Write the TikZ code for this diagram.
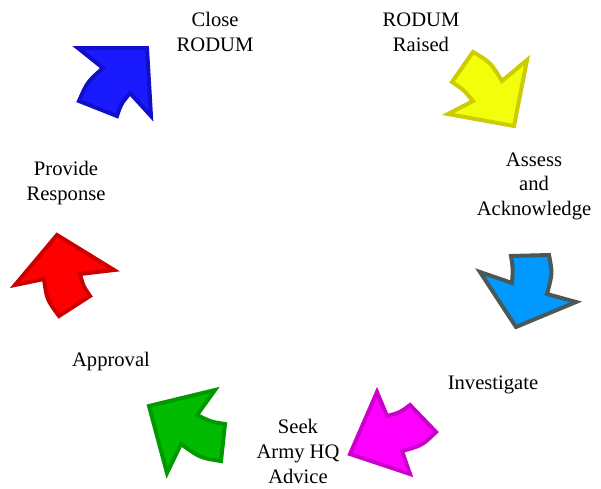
\documentclass[tikz,border=0pt]{standalone}
\usepackage{fontspec}
\setmainfont{Liberation Serif}
\definecolor{blueFill}{HTML}{1A1AFF}
\definecolor{blueEdge}{HTML}{1010CC}
\definecolor{yellowFill}{HTML}{F2FF0A}
\definecolor{yellowEdge}{HTML}{CCCC00}
\definecolor{skyFill}{HTML}{0099FF}
\definecolor{skyEdge}{HTML}{4A5858}
\definecolor{magentaFill}{HTML}{FF00FF}
\definecolor{magentaEdge}{HTML}{CC00CC}
\definecolor{greenFill}{HTML}{00BB00}
\definecolor{greenEdge}{HTML}{009900}
\definecolor{redFill}{HTML}{FF0000}
\definecolor{redEdge}{HTML}{CC0000}
\begin{document}
\begin{tikzpicture}[x=1pt,y=-1pt,
  steplabel/.style={font=\fontsize{20.6}{24.8}\selectfont, align=center, anchor=base, inner sep=0pt},
  cyclearrow/.style={line width=4pt, line join=miter}]
\useasboundingbox (0,0) rectangle (601,488);

% curved block arrows running clockwise round the cycle
\draw[cyclearrow, draw=blueEdge, fill=blueFill]
  (79,101) .. controls (87.2,82.2) .. (103,68) -- (78,48) -- (147,48)
  -- (151,116) -- (130,93) .. controls (121,104) .. (117,116) -- cycle;
\draw[cyclearrow, draw=yellowEdge, fill=yellowFill]
  (473,52) .. controls (490.4,62.2) .. (502,81) -- (527,60) -- (514,126)
  -- (448,114) -- (473,101) .. controls (463.5,89.7) .. (452,82) -- cycle;
\draw[cyclearrow, draw=skyEdge, fill=skyFill]
  (549,255) .. controls (552.5,273.3) .. (547,294) -- (576,302) -- (516,327)
  -- (480,272) -- (512,283) .. controls (513,268.5) .. (511,256) -- cycle;
\draw[cyclearrow, draw=magentaEdge, fill=magentaFill]
  (436,432) .. controls (422,445.5) .. (402,451) -- (410,474) -- (350,454)
  -- (377,392) -- (387,416) .. controls (400,412.6) .. (410,405) -- cycle;
\draw[cyclearrow, draw=greenEdge, fill=greenFill]
  (221,461) .. controls (200,457.7) .. (181,444) -- (167,473) -- (149,406)
  -- (215,390) -- (197,415) .. controls (211.2,421.9) .. (225,424) -- cycle;
\draw[cyclearrow, draw=redEdge, fill=redFill]
  (59,316) .. controls (46.8,299.4) .. (44,279) -- (15,285) -- (57,235)
  -- (114,270) -- (80,274) .. controls (83.3,286.3) .. (90,296) -- cycle;

% step labels (a multi-line label sits on the baseline of its last line)
\node[steplabel] (close)    at (215,51.7)  {Close\\RODUM};
\node[steplabel] (raised)   at (421,51.7)  {RODUM\\Raised};
\node[steplabel] (assess)   at (534,215.7) {Assess\\and\\Acknowledge};
\node[steplabel] (invest)   at (493,389)   {Investigate};
\node[steplabel] (seek)     at (298,483)   {Seek\\Army HQ\\Advice};
\node[steplabel] (approval) at (111,366.7) {Approval};
\node[steplabel] (provide)  at (66,200)    {Provide\\Response};
\end{tikzpicture}
\end{document}
